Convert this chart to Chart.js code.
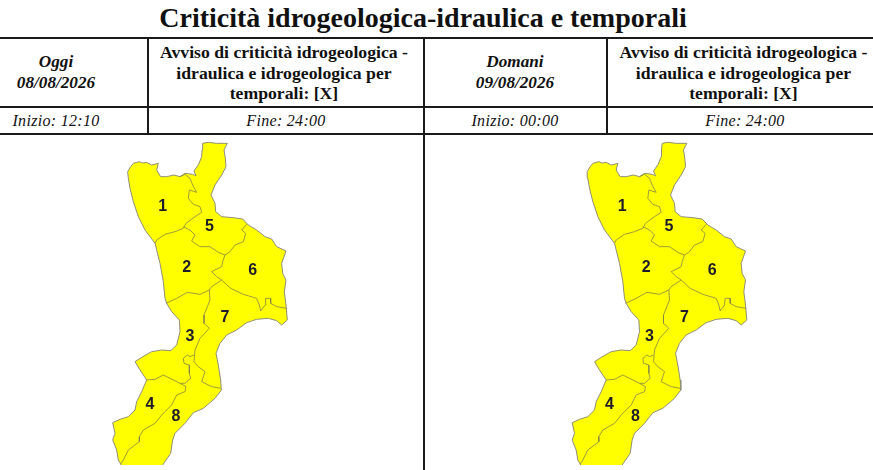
<!DOCTYPE html>
<html>
<head>
<meta charset="utf-8">
<script src="https://cdn.jsdelivr.net/npm/chart.js@4/dist/chart.umd.min.js"></script>
<style>
html,body{margin:0;padding:0;background:#fff;overflow:hidden}
body{width:873px;height:470px;position:relative;font-family:"Liberation Serif",serif;color:#111}
#title{position:absolute;left:0;top:0;width:846px;text-align:center;font-size:28px;font-weight:bold;line-height:36px}
.rule{position:absolute;background:#1a1a1a}
.cell{position:absolute;text-align:center;white-space:nowrap}
.head{font-weight:bold;font-size:17.7px;line-height:20.6px;top:42px}
.day{font-weight:bold;font-style:italic;font-size:17.2px;line-height:21.6px;top:50.5px}
.time{font-style:italic;font-size:16px;line-height:20px;top:111px;letter-spacing:.3px}
canvas{position:absolute;top:135px}
</style>
</head>
<body>
<div id="title"></div>
<div id="table"></div>
<canvas id="mapToday" width="423" height="330" style="left:0"></canvas>
<canvas id="mapTomorrow" width="449" height="330" style="left:424px"></canvas>
<script>
// texts
const titleText = "Criticità idrogeologica-idraulica e temporali";
const dayNames = ["Oggi", "Domani"];
const dayDates = ["08/08/2026", "09/08/2026"];
const notice = "Avviso di criticità idrogeologica -<br>idraulica e idrogeologica per<br>temporali: [X]";
const startTimes = ["Inizio: 12:10", "Inizio: 00:00"];
const endTimes = ["Fine: 24:00", "Fine: 24:00"];

// map outline and zone borders, in map grid units (y grows southward)
// the source image is cropped at the south, so the coast runs past the y axis max
const coast = [[83,110],[92,95],[100,85],[118,80],[128,84],[140,82],[155,90],[175,85],[170,105],[182,125],[200,125],[222,120],[240,125],[255,115],[278,118],[288,122],[282,108],[296,88],[305,65],[306,45],[308,25],[325,22],[350,25],[382,25],[372,45],[376,70],[378,95],[365,120],[345,150],[333,180],[345,205],[347,230],[365,245],[400,248],[428,252],[445,270],[470,285],[495,305],[515,312],[530,335],[558,348],[545,385],[548,415],[558,435],[553,470],[558,510],[562,555],[545,570],[530,557],[505,550],[470,553],[440,563],[410,585],[380,600],[360,625],[348,655],[355,690],[362,735],[364,765],[345,790],[310,820],[280,833],[255,865],[225,895],[218,915],[212,955],[190,987],[180,1000],[66,1000],[62,987],[55,975],[50,945],[38,915],[45,895],[38,863],[60,853],[85,845],[105,825],[110,800],[125,770],[140,735],[120,705],[105,680],[125,667],[155,650],[185,645],[212,647],[230,630],[240,590],[238,555],[215,530],[200,505],[195,490],[190,440],[180,385],[165,325],[135,285],[115,245],[100,200],[90,160],[85,130],[83,110]];
const border1 = [[240,125],[255,118],[270,130],[278,150],[290,172],[268,165],[265,190],[280,208],[300,215],[305,232],[285,245],[258,265],[250,280],[225,290],[195,298],[170,315],[165,325]];
const border2 = [[250,275],[270,285],[285,300],[275,318],[300,335],[330,335],[355,352],[375,360]];
const border3 = [[440,268],[425,285],[437,295],[430,320],[405,330],[390,350],[375,360],[368,380],[365,395],[335,410],[350,425],[365,435]];
const border4 = [[365,435],[392,460],[430,478],[470,490],[478,510],[482,528],[495,510],[497,490],[512,490],[512,505],[530,515],[560,520]];
const border5 = [[198,505],[230,490],[262,472],[300,478],[328,465],[335,455],[365,435]];
const border6 = [[328,465],[330,495],[322,515],[312,540],[312,565],[328,580],[300,610],[285,645],[282,680]];
const border7 = [[282,660],[270,665],[262,660],[250,670],[252,685],[268,690],[268,715],[272,730],[255,745],[240,745],[210,730],[190,720],[165,733],[140,735]];
const border8 = [[240,745],[258,755],[255,770],[230,780],[215,810],[185,840],[165,865],[130,885],[118,905],[118,920],[85,945],[70,975],[62,987]];
const border9 = [[282,680],[295,695],[315,710],[305,740],[335,755],[362,760]];
const zoneBorders = [border1, border2, border3, border4, border5, border6, border7, border8, border9];

const zoneNames = ["1", "2", "3", "4", "5", "6", "7", "8"];
const zoneX = [188, 260, 270, 150, 328, 458, 375, 228];
const zoneY = [215, 397, 605, 810, 275, 407, 548, 845];

function addCell(cls, left, width, html) {
  const d = document.createElement("div");
  d.className = "cell " + cls;
  d.style.left = left + "px";
  d.style.width = width + "px";
  d.innerHTML = html;
  document.getElementById("table").appendChild(d);
}

function addRule(left, top, width, height) {
  const d = document.createElement("div");
  d.className = "rule";
  d.style.cssText = `left:${left}px;top:${top}px;width:${width}px;height:${height}px`;
  document.getElementById("table").appendChild(d);
}

document.getElementById("title").textContent = titleText;

addRule(0, 37, 873, 2);
addRule(0, 106, 873, 2);
addRule(0, 133, 873, 2);
addRule(147, 37, 2, 98);
addRule(423, 37, 2, 433);
addRule(606, 37, 2, 98);

addCell("day", 0, 112, dayNames[0] + "<br>" + dayDates[0]);
addCell("head", 147, 274, notice);
addCell("day", 425, 180, dayNames[1] + "<br>" + dayDates[1]);
addCell("head", 610, 267, notice);
addCell("time", 0, 112, startTimes[0]);
addCell("time", 149, 274, endTimes[0]);
addCell("time", 425, 180, startTimes[1]);
addCell("time", 612, 266, endTimes[1]);

const zoneLabels = {
  id: "zoneLabels",
  afterDatasetsDraw(chart) {
    const ctx = chart.ctx;
    ctx.save();
    ctx.font = "bold 16px 'Liberation Sans'";
    ctx.fillStyle = "#1c1c2a";
    ctx.textAlign = "center";
    ctx.textBaseline = "middle";
    zoneNames.forEach((name, i) => {
      ctx.fillText(name, chart.scales.x.getPixelForValue(zoneX[i]), chart.scales.y.getPixelForValue(zoneY[i]));
    });
    ctx.restore();
  }
};

function toPoints(line) {
  return line.map(p => ({ x: p[0], y: p[1] }));
}

function drawMap(id, xMin, xMax) {
  // higher order is drawn first, so the fill stays under the zone borders
  const datasets = [{
    data: toPoints(coast),
    order: 1,
    showLine: true,
    fill: "shape",
    backgroundColor: "#ffff00",
    borderColor: "#8f8f78",
    borderWidth: 1,
    pointRadius: 0
  }];
  zoneBorders.forEach(line => {
    datasets.push({
      data: toPoints(line),
      order: 0,
      showLine: true,
      fill: false,
      borderColor: "#85854a",
      borderWidth: 0.8,
      pointRadius: 0
    });
  });
  new Chart(document.getElementById(id), {
    type: "scatter",
    data: { datasets: datasets },
    plugins: [zoneLabels],
    options: {
      responsive: false,
      animation: false,
      layout: { padding: 0 },
      plugins: { legend: { display: false }, tooltip: { enabled: false } },
      scales: {
        x: { display: false, min: xMin, max: xMax },
        y: { display: false, min: 0, max: 990, reverse: true }
      }
    }
  });
}

drawMap("mapToday", -300, 969);
drawMap("mapTomorrow", -406.5, 940.5);
</script>
</body>
</html>
